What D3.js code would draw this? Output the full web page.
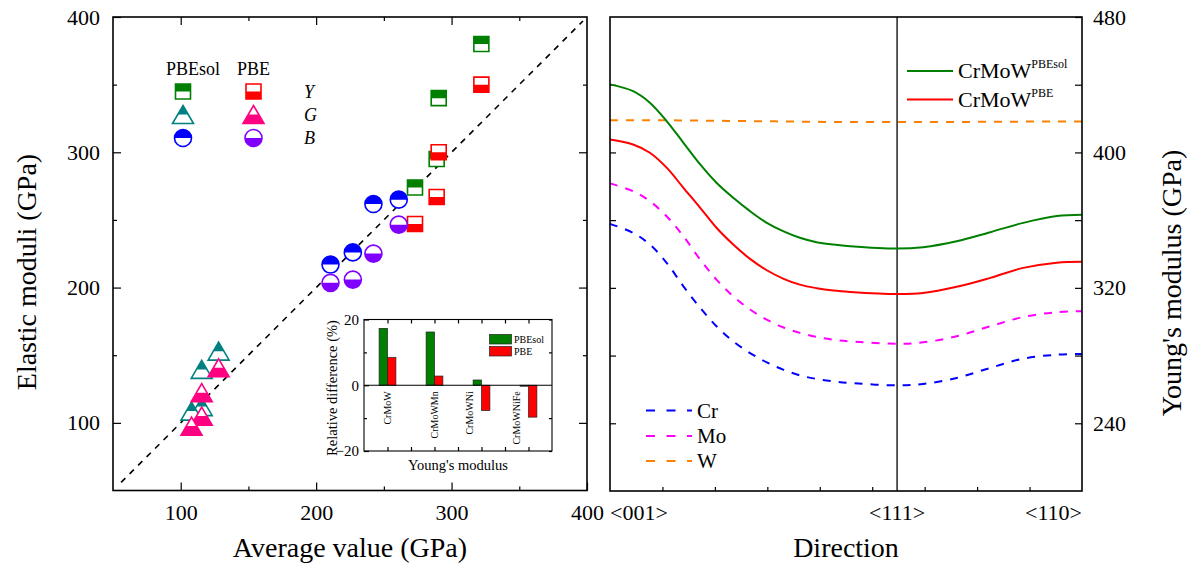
<!DOCTYPE html>
<html>
<head>
<meta charset="utf-8">
<script src="https://cdn.jsdelivr.net/npm/d3@7"></script>
<style>
body { margin: 0; background: #fff; }
text { font-family: "Liberation Serif", "Times New Roman", serif; fill: #000; }
</style>
</head>
<body>
<svg id="chart" width="1195" height="568"></svg>
<script>
// ---- left panel: calculated moduli vs average value (GPa)
const avgY = [322, 290.5, 289, 273];
const yPBEsol = [380, 340, 295, 274];
const yPBE = [350, 300, 267, 247];
const avgG = [128, 115.5, 115.5, 108];
const gPBEsol = [153, 139.5, 112, 108.7];
const gPBE = [140.7, 122.3, 105, 97.6];
const avgB = [261, 242.3, 227.1, 210.6];
const bPBEsol = [265, 261.8, 226, 217];
const bPBE = [246.5, 225.1, 205.9, 203.5];
const diag = [56, 397];

// ---- inset: relative difference of Young's modulus (%)
const alloys = ["CrMoW", "CrMoWMn", "CrMoWNi", "CrMoWNiFe"];
const diffPBEsol = [17.3, 16.2, 1.6, -0.3];
const diffPBE = [8.5, 2.8, -7.7, -9.7];

// ---- right panel: Young's modulus along direction (angle from <001>, degrees)
const angles = [0, 4.4, 7.6, 10.8, 14, 17.2, 20.3, 23.5, 26.7, 29.9, 33, 36.2, 39.4, 42.6, 45.8, 54.74, 59.7, 66.1, 72.5, 78.8, 85.2, 90];
const crmowPBEsol = [440.2, 436.2, 429.4, 418.5, 405.7, 392.9, 382.1, 373.2, 365.3, 358.4, 353.5, 349.6, 347, 345.6, 344.6, 343.2, 344, 347.5, 352.9, 358.4, 362.4, 363.2];
const crmowPBE = [407.7, 404.7, 399.8, 391, 379.1, 367.3, 355.5, 345.6, 337.1, 330.4, 325.5, 321.9, 319.8, 318.4, 317.6, 316.4, 317, 320.6, 325.9, 331.8, 334.9, 335.4];
const cr = [357.8, 352.5, 345.6, 334.8, 320.9, 308.2, 297.3, 288.4, 281.5, 276, 271.7, 268.3, 266.2, 264.8, 263.8, 262.4, 263.2, 266.8, 272.7, 278.2, 280.5, 281];
const mo = [381.7, 377.1, 371.2, 362.3, 350.5, 336.7, 324.9, 315, 307.2, 301.2, 296.7, 293.4, 291, 289.4, 288.4, 287, 287.8, 291.4, 297.3, 302.8, 305.6, 306.2];
const w = [419, 419, 419, 419, 418.9, 418.8, 418.7, 418.6, 418.5, 418.4, 418.3, 418.2, 418.1, 418, 418, 417.9, 418, 418, 418.1, 418.2, 418.3, 418.3];
const dirTicks = [0, 54.74, 90];
const dirLabels = ["<001>", "<111>", "<110>"];

const FONT = "Liberation Serif, Times New Roman, serif";
const svg = d3.select("#chart");

const defs = svg.append("defs");
defs.append("clipPath").attr("id", "topHalf").attr("clipPathUnits", "objectBoundingBox")
    .append("rect").attr("x", 0).attr("y", 0).attr("width", 1).attr("height", 0.5);
defs.append("clipPath").attr("id", "botHalf").attr("clipPathUnits", "objectBoundingBox")
    .append("rect").attr("x", 0).attr("y", 0.5).attr("width", 1).attr("height", 0.5);

function axisGroup(axis, transform, fontSize) {
    const g = svg.append("g").attr("transform", transform).call(axis);
    g.select(".domain").remove();
    g.attr("font-family", FONT).attr("font-size", fontSize);
    g.selectAll("line").attr("stroke", "#000").attr("stroke-width", 1.2);
    return g;
}

function frame(x0, y0, x1, y1, sw) {
    svg.append("rect").attr("x", x0).attr("y", y0)
        .attr("width", x1 - x0).attr("height", y1 - y0)
        .attr("fill", "none").attr("stroke", "#000").attr("stroke-width", sw);
}

// ================= LEFT PANEL =================
const xL = d3.scaleLinear().domain([50, 400]).range([113, 587]);
const yL = d3.scaleLinear().domain([50, 400]).range([490.5, 17]);

const none = () => "";
axisGroup(d3.axisBottom(xL).tickValues([100, 200, 300, 400]).tickSize(-8).tickPadding(14), "translate(0,490.5)", 22);
axisGroup(d3.axisBottom(xL).tickValues([150, 250, 350]).tickSize(-4).tickFormat(none), "translate(0,490.5)", 22);
axisGroup(d3.axisTop(xL).tickValues([100, 200, 300]).tickSize(-8).tickFormat(none), "translate(0,17)", 22);
axisGroup(d3.axisTop(xL).tickValues([150, 250, 350]).tickSize(-4).tickFormat(none), "translate(0,17)", 22);
axisGroup(d3.axisLeft(yL).tickValues([100, 200, 300, 400]).tickSize(-8).tickPadding(13), "translate(113,0)", 22);
axisGroup(d3.axisLeft(yL).tickValues([150, 250, 350]).tickSize(-4).tickFormat(none), "translate(113,0)", 22);
axisGroup(d3.axisRight(yL).tickValues([100, 200, 300]).tickSize(-8).tickFormat(none), "translate(587,0)", 22);
axisGroup(d3.axisRight(yL).tickValues([150, 250, 350]).tickSize(-4).tickFormat(none), "translate(587,0)", 22);
frame(113, 17, 587, 490.5, 1.6);

svg.append("text").attr("x", 350).attr("y", 557).attr("text-anchor", "middle")
    .attr("font-size", 28).text("Average value (GPa)");
svg.append("text").attr("transform", "translate(36,272) rotate(-90)").attr("text-anchor", "middle")
    .attr("font-size", 28).text("Elastic moduli (GPa)");

// diagonal y = x
svg.append("line")
    .attr("x1", xL(diag[0])).attr("y1", yL(diag[0]))
    .attr("x2", xL(diag[1])).attr("y2", yL(diag[1]))
    .attr("stroke", "#000").attr("stroke-width", 1.6).attr("stroke-dasharray", "6,6");

const shapes = {
    square: "M-7.5,-7.5H7.5V7.5H-7.5Z",
    triangle: "M0,-9L10.5,9H-10.5Z",
    circle: d3.symbol().type(d3.symbolCircle).size(Math.PI * 8.5 * 8.5)()
};

function marker(g, shape, cx, cy, color, half) {
    const m = g.append("g").attr("transform", `translate(${cx},${cy})`);
    m.append("path").attr("d", shapes[shape]).attr("fill", "#fff")
        .attr("stroke", color).attr("stroke-width", 1.6);
    m.append("path").attr("d", shapes[shape]).attr("fill", color)
        .attr("clip-path", `url(#${half})`);
}

const pts = svg.append("g");
function series(avg, vals, shape, color, half) {
    avg.forEach((a, i) => marker(pts, shape, xL(a), yL(vals[i]), color, half));
}
series(avgY, yPBEsol, "square", "#008000", "topHalf");
series(avgY, yPBE, "square", "#ff0000", "botHalf");
series(avgG, gPBEsol, "triangle", "#008080", "topHalf");
series(avgG, gPBE, "triangle", "#ff0080", "botHalf");
series(avgB, bPBEsol, "circle", "#0000ff", "topHalf");
series(avgB, bPBE, "circle", "#8000ff", "botHalf");

// legend
const lg = svg.append("g");
lg.append("text").attr("x", 166).attr("y", 75).attr("font-size", 18).text("PBEsol");
lg.append("text").attr("x", 237).attr("y", 75).attr("font-size", 18).text("PBE");
const legRows = [
    {shape: "square", c1: "#008000", c2: "#ff0000", lab: "Y", y: 91.5},
    {shape: "triangle", c1: "#008080", c2: "#ff0080", lab: "G", y: 114.5},
    {shape: "circle", c1: "#0000ff", c2: "#8000ff", lab: "B", y: 138}
];
legRows.forEach(r => {
    marker(lg, r.shape, 183, r.y, r.c1, "topHalf");
    marker(lg, r.shape, 253.5, r.y, r.c2, "botHalf");
    lg.append("text").attr("x", 304).attr("y", r.y + 6).attr("font-size", 18)
        .attr("font-style", "italic").text(r.lab);
});

// ================= INSET =================
const xI = d3.scaleBand().domain(alloys).range([364, 552]).paddingInner(0).paddingOuter(0);
const xSub = d3.scaleBand().domain(["PBEsol", "PBE"]).range([-8.4, 8.4]);
const yI = d3.scaleLinear().domain([-20, 20]).range([451, 319.5]);

svg.append("rect").attr("x", 364).attr("y", 319.5).attr("width", 188).attr("height", 131.5).attr("fill", "#fff");

const insetTicks = [];
alloys.forEach(a => { insetTicks.push(xI(a)); insetTicks.push(xI(a) + xI.bandwidth() / 2); });
const xIlin = d3.scaleLinear().domain([0, 1]).range([0, 1]);
axisGroup(d3.axisBottom(xIlin).tickValues(insetTicks.slice(1)).tickSize(-4).tickFormat(none), "translate(0,451)", 10);
axisGroup(d3.axisTop(xIlin).tickValues(insetTicks.slice(1)).tickSize(-4).tickFormat(none), "translate(0,319.5)", 10);
axisGroup(d3.axisLeft(yI).tickValues([-20, 0, 20]).tickSize(-5).tickPadding(5), "translate(364,0)", 15);
axisGroup(d3.axisLeft(yI).tickValues([-10, 10]).tickSize(-3).tickFormat(none), "translate(364,0)", 15);
axisGroup(d3.axisRight(yI).tickValues([-20, -10, 10, 20]).tickSize(-3).tickFormat(none), "translate(552,0)", 15);

const insetBars = svg.append("g");
const barSeries = [{key: "PBEsol", vals: diffPBEsol, color: "#008000"}, {key: "PBE", vals: diffPBE, color: "#ff0000"}];
barSeries.forEach(s => {
    insetBars.selectAll(null).data(alloys).enter().append("rect")
        .attr("x", d => xI(d) + xI.bandwidth() / 2 + xSub(s.key))
        .attr("width", xSub.bandwidth())
        .attr("y", (d, i) => yI(Math.max(0, s.vals[i])))
        .attr("height", (d, i) => Math.abs(yI(s.vals[i]) - yI(0)))
        .attr("fill", s.color).attr("stroke", "#222").attr("stroke-width", 0.7);
});
svg.append("line").attr("x1", 364).attr("x2", 552).attr("y1", yI(0)).attr("y2", yI(0))
    .attr("stroke", "#000").attr("stroke-width", 1.1);
frame(364, 319.5, 552, 451, 1.1);

// category labels (shifted left when the PBE bar hangs below zero)
svg.append("g").selectAll("text").data(alloys).enter().append("text")
    .attr("transform", (d, i) => {
        const cx = xI(d) + xI.bandwidth() / 2 + (diffPBE[i] < 0 ? -12 : 0);
        return `translate(${cx + 3.5},${yI(0) + 6}) rotate(-90)`;
    })
    .attr("text-anchor", "end").attr("font-size", 10).text(d => d);

svg.append("text").attr("x", 458).attr("y", 470).attr("text-anchor", "middle")
    .attr("font-size", 14.5).text("Young's modulus");
svg.append("text").attr("transform", "translate(337,388) rotate(-90)").attr("text-anchor", "middle")
    .attr("font-size", 14.5).text("Relative difference (%)");

// inset legend
barSeries.forEach((s, i) => {
    svg.append("rect").attr("x", 489.5).attr("y", 334.5 + i * 12).attr("width", 22).attr("height", 9.5)
        .attr("fill", s.color).attr("stroke", "#222").attr("stroke-width", 0.7);
    svg.append("text").attr("x", 514).attr("y", 343 + i * 12).attr("font-size", 10).text(s.key);
});

// ================= RIGHT PANEL =================
const xR = d3.scaleLinear().domain([0, 90]).range([610, 1082]);
const yR = d3.scaleLinear().domain([200, 480]).range([491, 17]);

axisGroup(d3.axisBottom(xR).tickValues(d3.range(10, 90, 10)).tickSize(-4).tickFormat(none), "translate(0,491)", 22);
axisGroup(d3.axisLeft(yR).tickValues([240, 280, 320, 360, 400, 440]).tickSize(-6).tickFormat(none), "translate(610,0)", 22);
axisGroup(d3.axisRight(yR).tickValues([240, 280, 320, 360, 400, 440, 480]).tickSize(-7).tickPadding(11)
    .tickFormat(d => d % 80 === 0 ? d : ""), "translate(1082,0)", 22)
    .selectAll("text").attr("dy", "0.32em");

svg.append("g").selectAll("text").data(dirTicks).enter().append("text")
    .attr("x", d => xR(d)).attr("y", 520).attr("font-size", 22)
    .attr("text-anchor", (d, i) => ["start", "middle", "end"][i])
    .text((d, i) => dirLabels[i]);

svg.append("line").attr("x1", xR(dirTicks[1])).attr("x2", xR(dirTicks[1]))
    .attr("y1", 17).attr("y2", 491).attr("stroke", "#000").attr("stroke-width", 1.3);

svg.append("text").attr("x", 846).attr("y", 557).attr("text-anchor", "middle")
    .attr("font-size", 28).text("Direction");
svg.append("text").attr("transform", "translate(1181,283) rotate(-90)").attr("text-anchor", "middle")
    .attr("font-size", 28).text("Young's modulus (GPa)");

const line = d3.line().x((d, i) => xR(angles[i])).y(d => yR(d)).curve(d3.curveCatmullRom.alpha(0.5));
const curves = [
    {vals: w, color: "#ff8000", dash: "8,8"},
    {vals: mo, color: "#ff00ff", dash: "8,8"},
    {vals: cr, color: "#0000ff", dash: "8,8"},
    {vals: crmowPBE, color: "#ff0000", dash: null},
    {vals: crmowPBEsol, color: "#008000", dash: null}
];
curves.forEach(c => {
    svg.append("path").attr("d", line(c.vals)).attr("fill", "none")
        .attr("stroke", c.color).attr("stroke-width", 2)
        .attr("stroke-dasharray", c.dash);
});
frame(610, 17, 1082, 491, 1.6);

// right legends
const solidLeg = [{color: "#008000", sup: "PBEsol", y: 71}, {color: "#ff0000", sup: "PBE", y: 99.5}];
solidLeg.forEach(l => {
    svg.append("line").attr("x1", 907).attr("x2", 953).attr("y1", l.y).attr("y2", l.y)
        .attr("stroke", l.color).attr("stroke-width", 2);
    const t = svg.append("text").attr("x", 958).attr("y", l.y + 7).attr("font-size", 22);
    t.append("tspan").text("CrMoW");
    t.append("tspan").attr("font-size", 12).attr("dy", -10).text(l.sup);
});
const dashLeg = [{color: "#0000ff", lab: "Cr", y: 410.5}, {color: "#ff00ff", lab: "Mo", y: 436}, {color: "#ff8000", lab: "W", y: 461}];
dashLeg.forEach(l => {
    svg.append("line").attr("x1", 646).attr("x2", 692).attr("y1", l.y).attr("y2", l.y)
        .attr("stroke", l.color).attr("stroke-width", 2).attr("stroke-dasharray", "9,11.5");
    svg.append("text").attr("x", 697).attr("y", l.y + 7).attr("font-size", 21).text(l.lab);
});
</script>
</body>
</html>
